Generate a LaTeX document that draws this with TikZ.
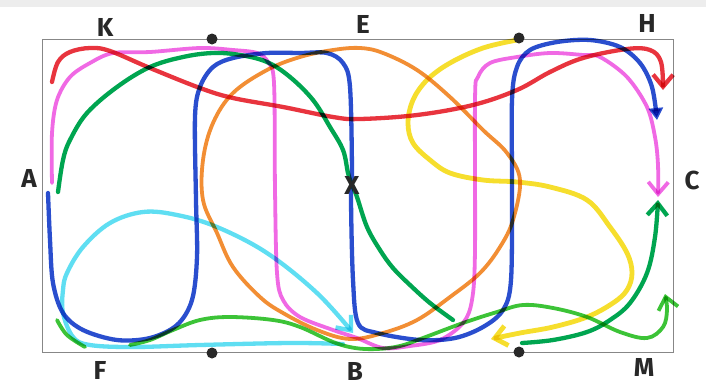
\documentclass[tikz,border=0pt]{standalone}
\usepackage{fontspec}
\newfontfamily\labfont{Fira Sans}
\usetikzlibrary{arrows.meta}
\definecolor{penred}{RGB}{232,52,62}
\definecolor{penpink}{RGB}{240,105,228}
\definecolor{penblue}{RGB}{42,78,206}
\definecolor{pendgreen}{RGB}{0,165,80}
\definecolor{penlgreen}{RGB}{60,195,55}
\definecolor{pencyan}{RGB}{95,222,242}
\definecolor{penorange}{RGB}{242,142,52}
\definecolor{penyellow}{RGB}{246,222,45}
\definecolor{ink}{RGB}{40,40,40}
\definecolor{framegray}{RGB}{135,135,135}
\begin{document}
\begin{tikzpicture}[x=1pt,y=-1pt,
  pen/.style={line width=4.3pt, line cap=round, line join=round},
  redpen/.style={pen, draw=penred},
  pinkpen/.style={pen, draw=penpink, line width=3.8pt},
  bluepen/.style={pen, draw=penblue},
  dgreenpen/.style={pen, draw=pendgreen},
  lgreenpen/.style={pen, draw=penlgreen, line width=3.8pt},
  cyanpen/.style={pen, draw=pencyan},
  orangepen/.style={pen, draw=penorange, line width=3.8pt},
  yellowpen/.style={pen, draw=penyellow, line width=4.8pt},
  tipv/.style={-{Straight Barb[length=12pt,width=20pt]}},
  tipfill/.style={-{Triangle[length=12pt,width=14pt]}},
  lab/.style={font=\labfont\bfseries\fontsize{26}{26}\selectfont, text=ink, inner sep=0pt},
  fielddot/.style={circle, fill=ink, minimum size=11pt, inner sep=0pt},
]
\useasboundingbox (0,0) rectangle (706,389);
\fill[white] (0,0) rectangle (706,389);
\fill[gray!14] (0,0) rectangle (706,7);
\draw[framegray, line width=1pt] (42,39) rectangle (673,352);

\begin{scope}[blend mode=multiply]
% orange loop
\draw[orangepen] plot[smooth cycle, tension=0.6] coordinates {(360,48) (383,53) (417,70) (450,97) (483,130) (507,153) (520,180) (513,220) (500,247) (480,273) (450,297) (417,320) (383,333) (350,339) (317,330) (283,313) (260,297) (233,267) (217,233) (203,200) (203,160) (213,123) (233,93) (267,70) (300,57) (333,50)};
% cyan
\draw[cyanpen, tipv] plot[smooth, tension=0.6] coordinates {(343,344) (290,343) (200,345) (133,347) (90,345) (73,337) (63,313) (63,290) (67,273) (83,247) (110,223) (143,212) (177,215) (217,227) (267,253) (317,293) (353,333)};
% yellow
\draw[yellowpen, tipv] plot[smooth, tension=0.6] coordinates {(517,40) (483,48) (450,63) (427,80) (413,100) (408,123) (413,143) (430,160) (450,173) (483,180) (517,182) (550,187) (587,200) (610,227) (627,253) (632,273) (627,290) (613,303) (587,317) (553,327) (520,333) (491,339)};
% light green
\draw[lgreenpen] plot[smooth, tension=0.6] coordinates {(57,320) (67,335) (85,347)};
\draw[lgreenpen, tipv] plot[smooth, tension=0.6] coordinates {(130,345) (150,340) (173,330) (200,320) (230,317) (273,320) (300,327) (333,342) (355,348) (377,349) (400,346) (423,338) (463,323) (497,312) (523,305) (553,308) (587,317) (620,332) (647,338) (663,327) (667,310) (665,294)};
% dark green
\draw[dgreenpen] plot[smooth, tension=0.6] coordinates {(58,192) (63,160) (70,140) (87,113) (117,87) (150,67) (183,57) (213,53) (240,55) (267,62) (290,77) (313,100) (330,127) (343,150) (348,173) (352,185) (357,197) (367,227) (380,250) (393,268) (410,285) (430,303) (453,320)};
\draw[dgreenpen, tipv] plot[smooth, tension=0.6] coordinates {(522,343) (553,340) (587,332) (610,320) (630,303) (647,273) (655,237) (658,200)};
% pink
\draw[pinkpen, tipv] plot[smooth, tension=0.55] coordinates {(52,183) (52,133) (57,100) (70,77) (90,63) (113,53) (150,52) (200,48) (233,50) (257,53) (268,62) (274,83) (275,190) (277,273) (283,300) (300,317) (333,330) (357,338) (383,348) (410,346) (440,340) (463,323) (472,300) (475,250) (475,100) (478,77) (490,63) (517,57) (550,53) (583,55) (600,57) (627,77) (647,107) (655,137) (658,165) (658,197)};
% blue
\draw[bluepen, tipfill] plot[smooth, tension=0.55] coordinates {(48,193) (50,240) (53,283) (63,313) (83,330) (117,340) (150,338) (177,325) (192,300) (197,257) (196,200) (195,117) (200,87) (213,67) (233,58) (267,53) (300,53) (327,53) (343,63) (350,87) (352,172) (351,200) (353,280) (358,323) (377,333) (420,340) (455,338) (483,327) (503,310) (511,280) (512,190) (512,100) (517,67) (530,50) (557,42) (590,40) (620,47) (640,63) (652,87) (657,120)};
% red
\draw[redpen, tipv] plot[smooth, tension=0.6] coordinates {(52,82) (58,62) (70,52) (90,48) (110,51) (150,68) (200,88) (233,98) (283,107) (333,117) (360,119) (417,115) (473,105) (517,90) (550,72) (583,58) (627,49) (650,50) (661,62) (663,90)};
\end{scope}

% markers
\node[fielddot] (d1) at (212,39) {};
\node[fielddot] (d2) at (519,38) {};
\node[fielddot] (d3) at (212,353) {};
\node[fielddot] (d4) at (519,352) {};
\node[lab] (lK) at (105,27) {K};
\node[lab] (lE) at (363,24) {E};
\node[lab] (lH) at (647,23) {H};
\node[lab] (lA) at (29,178) {A};
\node[lab] (lC) at (692,180) {C};
\node[lab] (lF) at (100,370) {F};
\node[lab] (lB) at (355,371) {B};
\node[lab] (lM) at (644,367) {M};
\node[lab] (lX) at (352,185) {X};
\end{tikzpicture}
\end{document}
